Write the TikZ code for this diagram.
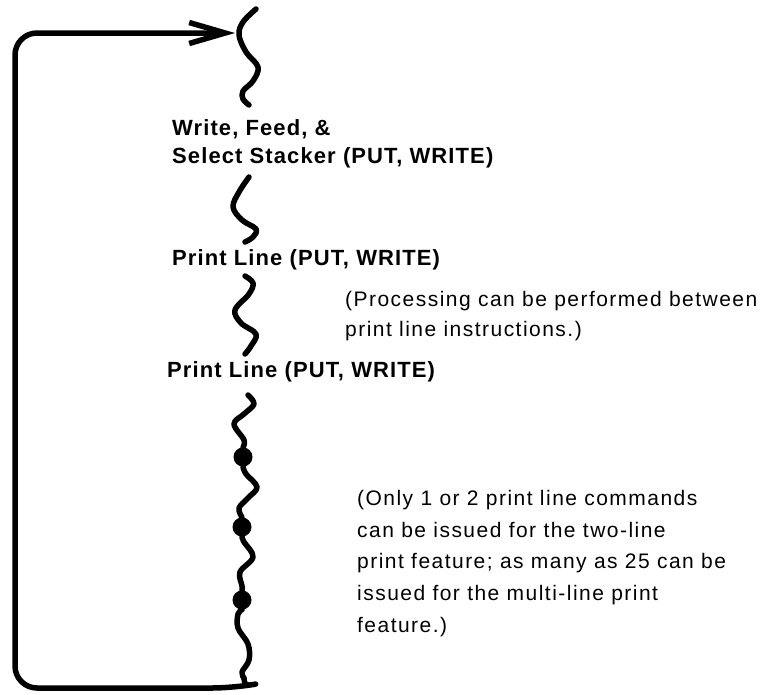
\documentclass[tikz,border=0pt]{standalone}
\usepackage{fontspec}
\setmainfont{Liberation Sans}
\newfontfamily\boldlab[LetterSpace=5]{Liberation Sans}
\newfontfamily\notelab[LetterSpace=7]{Liberation Sans}
\usetikzlibrary{arrows.meta}
\tikzset{
  lab/.style={anchor=base west, inner sep=0pt, font=\boldlab\bfseries\fontsize{22}{28}\selectfont},
  note/.style={anchor=base west, inner sep=0pt, font=\notelab\fontsize{21}{30}\selectfont},
  wave/.style={line width=5.5pt, line cap=round, line join=round},
  loopline/.style={line width=5.5pt, line cap=round, line join=round, rounded corners=22pt,
    -{Straight Barb[length=36pt,width=21pt]}},
  dotmark/.style={circle, fill=black, inner sep=0pt, minimum size=19pt}
}
\begin{document}
\begin{tikzpicture}[x=1pt,y=-1pt]
\useasboundingbox (0,0) rectangle (770,694);
% text nodes
\node[lab] (w1) at (172,135) {Write, Feed, \&};
\node[lab] (w2) at (172,163) {Select Stacker (PUT, WRITE)};
\node[lab] (p1) at (172,265) {Print Line (PUT, WRITE)};
\node[lab] (p2) at (167,377) {Print Line (PUT, WRITE)};
\node[note] (n1) at (345,306) {(Processing can be performed between};
\node[note] (n2) at (345,336) {print line instructions.)};
\node[note] (m1) at (357,505) {(Only 1 or 2 print line commands};
\node[note] (m2) at (357,537) {can be issued for the two-line};
\node[note] (m3) at (357,568) {print feature; as many as 25 can be};
\node[note] (m4) at (357,600) {issued for the multi-line print};
\node[note] (m5) at (357,632) {feature.)};
% dots
\node[dotmark] (d1) at (243,457) {};
\node[dotmark] (d2) at (242,527) {};
\node[dotmark] (d3) at (242,600) {};
% squiggle end points
\coordinate (t0) at (256,9);
\coordinate (t1) at (249,105);
\coordinate (s2a) at (249,177);
\coordinate (s2b) at (245,242);
\coordinate (s3a) at (245,276);
\coordinate (s3b) at (245,354);
\coordinate (s4a) at (248,395);
\coordinate (s7b) at (244,678);
\coordinate (corner) at (15,33);
\coordinate (tip) at (235,33);
% squiggles
\draw[wave] plot[smooth,tension=0.6] coordinates {(t0) (243,22) (239,35) (246,52) (258,67) (253,81) (243,91) (243,99) (t1)};
\draw[wave] plot[smooth,tension=0.6] coordinates {(s2a) (239,192) (233,207) (242,220) (256,229) (253,237) (s2b)};
\draw[wave] plot[smooth,tension=0.6] coordinates {(s3a) (253,283) (249,294) (235,310) (241,323) (256,334) (251,346) (s3b)};
\draw[wave] plot[smooth,tension=0.6] coordinates {(s4a) (254,404) (244,414) (234,424) (244,440) (d1.north)};
\draw[wave] plot[smooth,tension=0.6] coordinates {(d1.south) (246,474) (257,487) (248,498) (239,508) (d2.north)};
\draw[wave] plot[smooth,tension=0.6] coordinates {(d2.south) (244,542) (253,557) (240,572) (242,586) (d3.north)};
\draw[wave] plot[smooth,tension=0.6] coordinates {(d3.south) (238,614) (238,628) (248,644) (249,660) (242,672) (s7b)};
% return loop
\draw[loopline] (s7b) .. controls (245,686) .. (234,688) -- (15,688) -- (corner) -- (tip);
\end{tikzpicture}
\end{document}
